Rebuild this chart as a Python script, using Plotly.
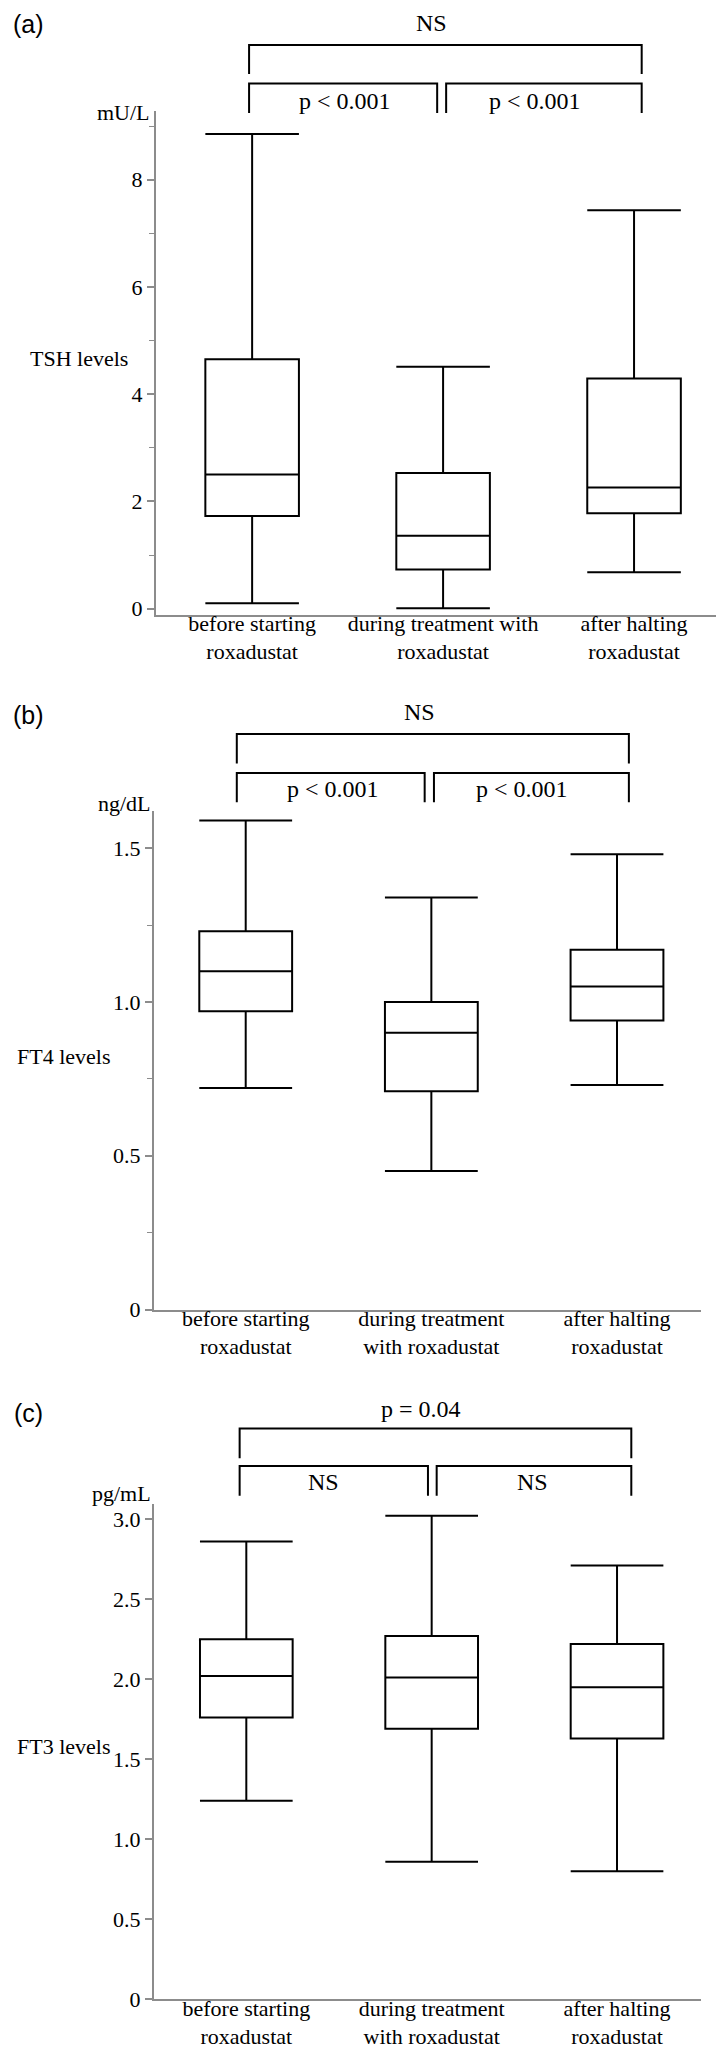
import plotly.graph_objects as go

W, H = 724, 2048

# ---------------- data ----------------
cat_a = ["before starting<br>roxadustat", "during treatment with<br>roxadustat", "after halting<br>roxadustat"]
cat_bc = ["before starting<br>roxadustat", "during treatment<br>with roxadustat", "after halting<br>roxadustat"]

tsh_lower = [0.10, 0.01, 0.68]
tsh_q1 = [1.73, 0.73, 1.78]
tsh_median = [2.50, 1.36, 2.26]
tsh_q3 = [4.65, 2.53, 4.29]
tsh_upper = [8.85, 4.51, 7.43]

ft4_lower = [0.72, 0.45, 0.73]
ft4_q1 = [0.97, 0.71, 0.94]
ft4_median = [1.10, 0.90, 1.05]
ft4_q3 = [1.23, 1.00, 1.17]
ft4_upper = [1.59, 1.34, 1.48]

ft3_lower = [1.24, 0.86, 0.80]
ft3_q1 = [1.76, 1.69, 1.63]
ft3_median = [2.02, 2.01, 1.95]
ft3_q3 = [2.25, 2.27, 2.22]
ft3_upper = [2.86, 3.02, 2.71]

tsh_tickvals = [0, 2, 4, 6, 8]
tsh_ticktext = ["0", "2", "4", "6", "8"]
ft4_tickvals = [0, 0.5, 1.0, 1.5]
ft4_ticktext = ["0", "0.5", "1.0", "1.5"]
ft3_tickvals = [0, 0.5, 1.0, 1.5, 2.0, 2.5, 3.0]
ft3_ticktext = ["0", "0.5", "1.0", "1.5", "2.0", "2.5", "3.0"]

panel_letters = ["(a)", "(b)", "(c)"]
y_titles = ["TSH levels", "FT4 levels", "FT3 levels"]
units = ["mU/L", "ng/dL", "pg/mL"]
overall_tests = ["NS", "NS", "p = 0.04"]
pair_tests = [["p < 0.001", "p < 0.001"], ["p < 0.001", "p < 0.001"], ["NS", "NS"]]

# ---------------- layout geometry (pixels) ----------------
SERIF = "Liberation Serif, Times New Roman, serif"
SANS = "Liberation Sans, Arial, sans-serif"
AXCOL = "#8c8c8c"

panels = [
    dict(cats=cat_a, lo=tsh_lower, q1=tsh_q1, med=tsh_median, q3=tsh_q3, hi=tsh_upper,
         tv=tsh_tickvals, tt=tsh_ticktext, minor=1,
         xdom=(147.7, 720), ydom=(103, 606.7), xr=(-0.505, 2.492), yr=(-0.112, 9.28), bw=0.49,
         letter=(20, 16), overall=(424, 14.5), pairs=[(336.7, 93), (526.7, 93)],
         unit=(144, 104), ytitle=(20, 350),
         br_top=(37, 66), br_low=(75.5, 105), legs=(-0.016, 0.969, 1.016, 2.04)),
    dict(cats=cat_bc, lo=ft4_lower, q1=ft4_q1, med=ft4_median, q3=ft4_q3, hi=ft4_upper,
         tv=ft4_tickvals, tt=ft4_ticktext, minor=0.25,
         xdom=(145.7, 693), ydom=(803, 1301.5), xr=(-0.4956, 2.4525), yr=(0, 1.621), bw=0.5,
         letter=(20, 707), overall=(411.7, 704.3), pairs=[(325, 780.6), (514, 780.6)],
         unit=(145, 795), ytitle=(6.7, 1048.3),
         br_top=(726, 755.5), br_low=(765, 794.3), legs=(-0.048, 0.964, 1.014, 2.064)),
    dict(cats=cat_bc, lo=ft3_lower, q1=ft3_q1, med=ft3_median, q3=ft3_q3, hi=ft3_upper,
         tv=ft3_tickvals, tt=ft3_ticktext, minor=None,
         xdom=(145.7, 693), ydom=(1496, 1991.4), xr=(-0.4996, 2.453), yr=(0, 3.094), bw=0.5,
         letter=(20, 1405), overall=(413.3, 1401.3), pairs=[(315.7, 1473.7), (524, 1473.7)],
         unit=(145, 1485), ytitle=(7.3, 1738.8),
         br_top=(1420.5, 1450.3), br_low=(1458, 1487.8), legs=(-0.036, 0.980, 1.027, 2.077)),
]


def px(x):
    return x / W


def py(y):
    return 1 - y / H


fig = go.Figure()
layout = dict(width=W, height=H, margin=dict(l=0, r=0, t=0, b=0), autosize=False,
              paper_bgcolor="white", plot_bgcolor="white", showlegend=False)
annotations = []
shapes = []

for i, p in enumerate(panels):
    n = "" if i == 0 else str(i + 1)
    xa, ya = "x" + n, "y" + n
    fig.add_trace(go.Box(
        x=p["cats"], lowerfence=p["lo"], q1=p["q1"], median=p["med"], q3=p["q3"],
        upperfence=p["hi"], xaxis=xa, yaxis=ya, width=p["bw"], whiskerwidth=1,
        boxpoints=False, fillcolor="rgba(255,255,255,0)",
        line=dict(color="black", width=2), hoverinfo="skip"))

    layout["xaxis" + n] = dict(
        domain=[px(p["xdom"][0]), px(p["xdom"][1])], range=list(p["xr"]), anchor=ya,
        type="category", categoryorder="array", categoryarray=p["cats"],
        showline=True, linecolor=AXCOL, linewidth=1.5, ticks="", showgrid=False,
        zeroline=False, automargin=False, fixedrange=True, ticklabelstandoff=-12,
        tickfont=dict(family=SERIF, size=22, color="black"))
    yd = dict(
        domain=[py(p["ydom"][1]), py(p["ydom"][0])], range=list(p["yr"]), anchor=xa,
        showline=True, linecolor=AXCOL, linewidth=1.5, ticks="outside", ticklen=7,
        tickwidth=1.5, tickcolor=AXCOL, tickvals=p["tv"], ticktext=p["tt"],
        showgrid=False, zeroline=False, automargin=False, fixedrange=True,
        tickfont=dict(family=SERIF, size=22, color="black"))
    if p["minor"]:
        yd["minor"] = dict(ticks="outside", dtick=p["minor"], tick0=0, ticklen=5,
                           tickwidth=1.2, tickcolor=AXCOL, showgrid=False)
    layout["yaxis" + n] = yd

    # index -> pixel x for this panel
    x0, x1 = p["xdom"]
    r0, r1 = p["xr"]

    def ix(v, x0=x0, x1=x1, r0=r0, r1=r1):
        return x0 + (v - r0) / (r1 - r0) * (x1 - x0)

    lA, lB, rA, rB = p["legs"]
    ty, tb = p["br_top"]
    ly, lb = p["br_low"]
    for (a, b, yt, yb) in [(lA, rB, ty, tb), (lA, lB, ly, lb), (rA, rB, ly, lb)]:
        xa_p, xb_p = px(ix(a)), px(ix(b))
        shapes.append(dict(
            type="path", xref="paper", yref="paper",
            path=f"M {xa_p} {py(yb)} L {xa_p} {py(yt)} L {xb_p} {py(yt)} L {xb_p} {py(yb)}",
            line=dict(color="black", width=2)))

    annotations.append(dict(text=panel_letters[i], x=px(p["letter"][0]), y=py(p["letter"][1]),
                            xref="paper", yref="paper", showarrow=False, xanchor="center",
                            yanchor="middle", font=dict(family=SANS, size=25, color="black")))
    annotations.append(dict(text=overall_tests[i], x=px(p["overall"][0]), y=py(p["overall"][1]),
                            xref="paper", yref="paper", showarrow=False, xanchor="center",
                            yanchor="middle", font=dict(family=SERIF, size=24, color="black")))
    for t, (tx, tyy) in zip(pair_tests[i], p["pairs"]):
        annotations.append(dict(text=t, x=px(tx), y=py(tyy), xref="paper", yref="paper",
                                showarrow=False, xanchor="center", yanchor="middle",
                                font=dict(family=SERIF, size=24, color="black")))
    annotations.append(dict(text=units[i], x=px(p["unit"][0]), y=py(p["unit"][1]),
                            xref="paper", yref="paper", showarrow=False, xanchor="right",
                            yanchor="middle", font=dict(family=SERIF, size=22, color="black")))
    annotations.append(dict(text=y_titles[i], x=px(p["ytitle"][0]), y=py(p["ytitle"][1]),
                            xref="paper", yref="paper", showarrow=False, xanchor="left",
                            yanchor="middle", font=dict(family=SERIF, size=22, color="black")))

layout["annotations"] = annotations
layout["shapes"] = shapes
fig.update_layout(**layout)
fig.write_html("out.html")
